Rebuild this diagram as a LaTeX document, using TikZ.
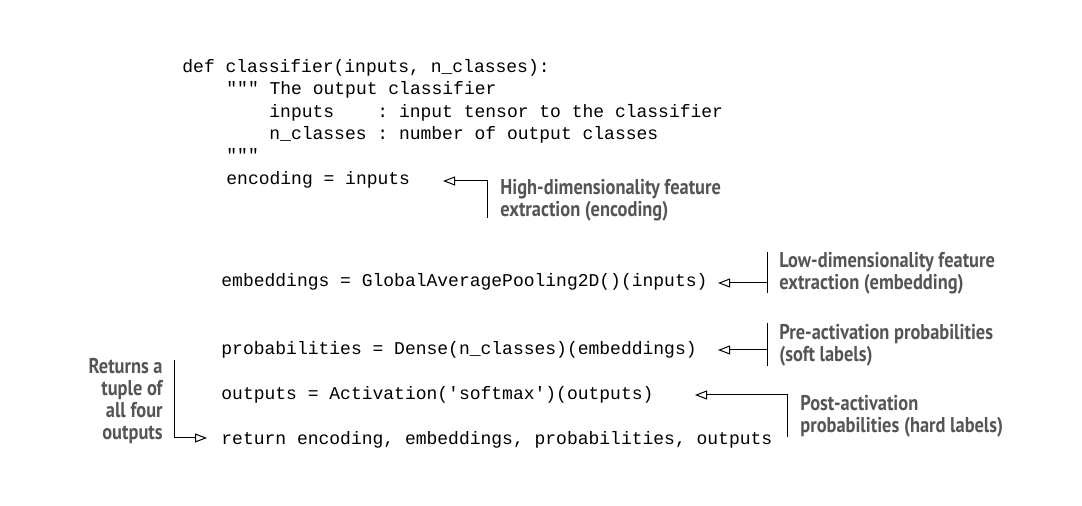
\documentclass[tikz,border=0pt]{standalone}
\usepackage{fontspec}
\setmonofont{Liberation Mono}
\newfontfamily\notefont[FakeStretch=0.86]{PT Sans}
\usetikzlibrary{arrows.meta}
\definecolor{notegray}{HTML}{555555}
\tikzset{
  code/.style={anchor=base west, inner sep=0pt, font=\ttfamily\fontsize{9}{11}\selectfont},
  note/.style={anchor=base west, inner sep=0pt, align=left, text=notegray, font=\notefont\bfseries\fontsize{10.7}{11}\selectfont},
  callout/.style={-{Triangle[open,length=6pt,width=4.5pt]}, line width=0.5pt},
}
\begin{document}
\begin{tikzpicture}[x=0.5pt, y=-0.5pt]
                \useasboundingbox (0,0) rectangle (1082,506);
                % code
                \node[code] (def) at (182,73) {def classifier(inputs, n\_classes):};
                \node[code] (doc) at (226,95) {""" The output classifier};
                \node[code] (inp) at (269,118) {inputs\ \ \ \ : input tensor to the classifier};
                \node[code] (ncl) at (269,140) {n\_classes : number of output classes};
                \node[code] (end) at (226,162) {"""};
                \node[code] (enc) at (226,185) {encoding = inputs};
                \node[code] (emb) at (221,287) {embeddings = GlobalAveragePooling2D()(inputs)};
                \node[code] (prb) at (221,355) {probabilities = Dense(n\_classes)(embeddings)};
                \node[code] (out) at (221,400) {outputs = Activation('softmax')(outputs)};
                \node[code] (ret) at (221,445) {return encoding, embeddings, probabilities, outputs};
                % notes (base = last line)
                \node[note] (n1) at (500,217) {High-dimensionality feature\\extraction (encoding)};
                \node[note] (n2) at (779,290) {Low-dimensionality feature\\extraction (embedding)};
                \node[note] (n3) at (779,362) {Pre-activation probabilities\\(soft labels)};
                \node[note] (n4) at (800,433) {Post-activation\\probabilities (hard labels)};
                \node[note, anchor=base east, align=right] (n5) at (163,440) {Returns a\\tuple of\\all four\\outputs};
                % callouts
                \coordinate (t1) at (443,181);
                \coordinate (e1) at (487,218);
                \draw[callout] (e1) |- (t1);
                \coordinate (t2) at (718,283);
                \coordinate (c2) at (767,283);
                \coordinate (a2) at (767,252);
                \coordinate (b2) at (767,293);
                \draw[line width=0.5pt] (a2) to (b2);
                \draw[callout] (c2) to (t2);
                \coordinate (t3) at (718,350);
                \coordinate (c3) at (767,350);
                \coordinate (a3) at (767,323);
                \coordinate (b3) at (767,366);
                \draw[line width=0.5pt] (a3) to (b3);
                \draw[callout] (c3) to (t3);
                \coordinate (t4) at (695,395);
                \coordinate (e4) at (787,437);
                \draw[callout] (e4) |- (t4);
                \coordinate (s5) at (174,360);
                \coordinate (t5) at (207,438);
                \draw[callout] (s5) |- (t5);
    \end{tikzpicture}
\end{document}
